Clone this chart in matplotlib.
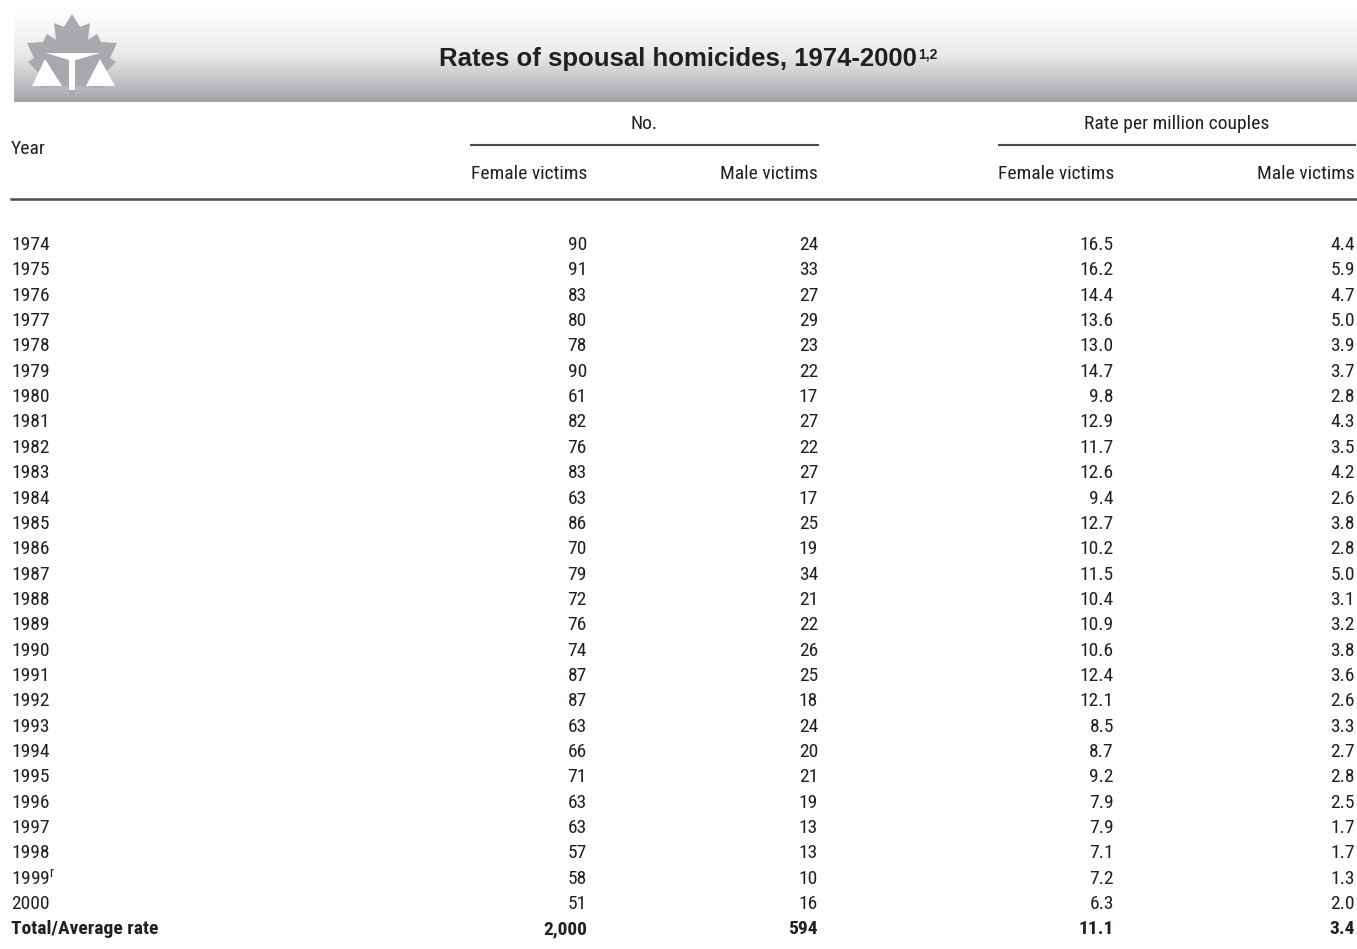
import numpy as np
import matplotlib.pyplot as plt
from matplotlib.colors import LinearSegmentedColormap
from matplotlib.patches import Polygon, Rectangle

years = ["1974", "1975", "1976", "1977", "1978", "1979", "1980", "1981", "1982",
         "1983", "1984", "1985", "1986", "1987", "1988", "1989", "1990", "1991",
         "1992", "1993", "1994", "1995", "1996", "1997", "1998", "1999$^{\\mathregular{r}}$", "2000"]
female_no = [90, 91, 83, 80, 78, 90, 61, 82, 76, 83, 63, 86, 70, 79, 72, 76, 74,
             87, 87, 63, 66, 71, 63, 63, 57, 58, 51]
male_no = [24, 33, 27, 29, 23, 22, 17, 27, 22, 27, 17, 25, 19, 34, 21, 22, 26,
           25, 18, 24, 20, 21, 19, 13, 13, 10, 16]
female_rate = [16.5, 16.2, 14.4, 13.6, 13.0, 14.7, 9.8, 12.9, 11.7, 12.6, 9.4,
               12.7, 10.2, 11.5, 10.4, 10.9, 10.6, 12.4, 12.1, 8.5, 8.7, 9.2,
               7.9, 7.9, 7.1, 7.2, 6.3]
male_rate = [4.4, 5.9, 4.7, 5.0, 3.9, 3.7, 2.8, 4.3, 3.5, 4.2, 2.6, 3.8, 2.8,
             5.0, 3.1, 3.2, 3.8, 3.6, 2.6, 3.3, 2.7, 2.8, 2.5, 1.7, 1.7, 1.3, 2.0]
total = ["Total/Average rate", "2,000", "594", "11.1", "3.4"]

title = "Rates of spousal homicides, 1974-2000"
title_note = "1,2"
group_labels = ["No.", "Rate per million couples"]
col_labels = ["Female victims", "Male victims", "Female victims", "Male victims"]

W, H = 1357, 949
fig = plt.figure(figsize=(W / 100, H / 100), dpi=100)
ax = fig.add_axes([0, 0, 1, 1])
ax.set_xlim(0, W)
ax.set_ylim(H, 0)
ax.axis("off")

font = ["Roboto Condensed", "Liberation Sans", "DejaVu Sans"]
txt = dict(family=font, fontsize=14, color="#231f20")

# banner with vertical gradient
grad = np.linspace(0, 1, 256).reshape(-1, 1)
cmap = LinearSegmentedColormap.from_list("g", ["#ffffff", "#e8e9ea", "#a7a9ac"])
ax.imshow(grad, extent=(14, W, 99, 12), cmap=cmap, aspect="auto", zorder=0)
ax.add_patch(Rectangle((14, 98), W - 14, 4, color="#a3a5a8", lw=0))

# logo: maple leaf with scales
leaf = np.array([[72, 14], [80, 27], [90, 23], [88, 40], [97, 34], [101, 42],
                 [117, 43], [110, 58], [116, 62], [100, 78], [104, 88], [76, 86],
                 [73, 98], [71, 98], [68, 86], [40, 88], [44, 78], [28, 62],
                 [34, 58], [27, 43], [43, 42], [47, 34], [56, 40], [54, 23], [64, 27]])
ax.add_patch(Polygon(leaf, closed=True, color="#a7a9ac", lw=0, zorder=1))
ax.add_patch(Polygon([[46, 53], [100, 53], [76, 60], [69, 60]], color="white", lw=0, zorder=2))
ax.add_patch(Rectangle((68.5, 57), 6, 33, color="white", lw=0, zorder=2))
ax.add_patch(Polygon([[45, 59], [32, 86], [62, 86]], color="white", lw=0, zorder=2))
ax.add_patch(Polygon([[100, 59], [86, 86], [115, 86]], color="white", lw=0, zorder=2))

t = ax.text(439, 59, title, ha="left", va="center", fontsize=18.5, fontweight="bold",
            family=["Liberation Sans", "DejaVu Sans"], color="#231f20")
ax.annotate(title_note, xy=(1, 1), xycoords=t, xytext=(1, 0), textcoords="offset points",
            ha="left", va="top", fontsize=10, fontweight="bold",
            family=["Liberation Sans", "DejaVu Sans"], color="#231f20")

# header
col_right = [587, 818, 1114, 1355]
ax.text(11, 149, "Year", ha="left", va="center", **txt)
ax.text(644, 124, group_labels[0], ha="center", va="center", **txt)
ax.text(1177, 124, group_labels[1], ha="center", va="center", **txt)
ax.plot([471, 818], [145, 145], color="#4d4d4f", lw=1.5)
ax.plot([999, 1355], [145, 145], color="#4d4d4f", lw=1.5)
for x, lab in zip(col_right, col_labels):
    ax.text(x, 174, lab, ha="right", va="center", **txt)
ax.plot([11, W], [198.5, 198.5], color="#4d4d4f", lw=1.8)

# body
y0, dy = 245, 25.35
for i, yr in enumerate(years):
    y = y0 + i * dy
    ax.text(11, y, yr, ha="left", va="center", **txt)
    vals = [str(female_no[i]), str(male_no[i]), f"{female_rate[i]:.1f}", f"{male_rate[i]:.1f}"]
    for x, v in zip(col_right, vals):
        ax.text(x, y, v, ha="right", va="center", **txt)

y = y0 + len(years) * dy
ax.text(11, y, total[0], ha="left", va="center", fontweight="bold", **txt)
for x, v in zip(col_right, total[1:]):
    ax.text(x, y, v, ha="right", va="center", fontweight="bold", **txt)

fig.savefig("out.png", dpi=100)
